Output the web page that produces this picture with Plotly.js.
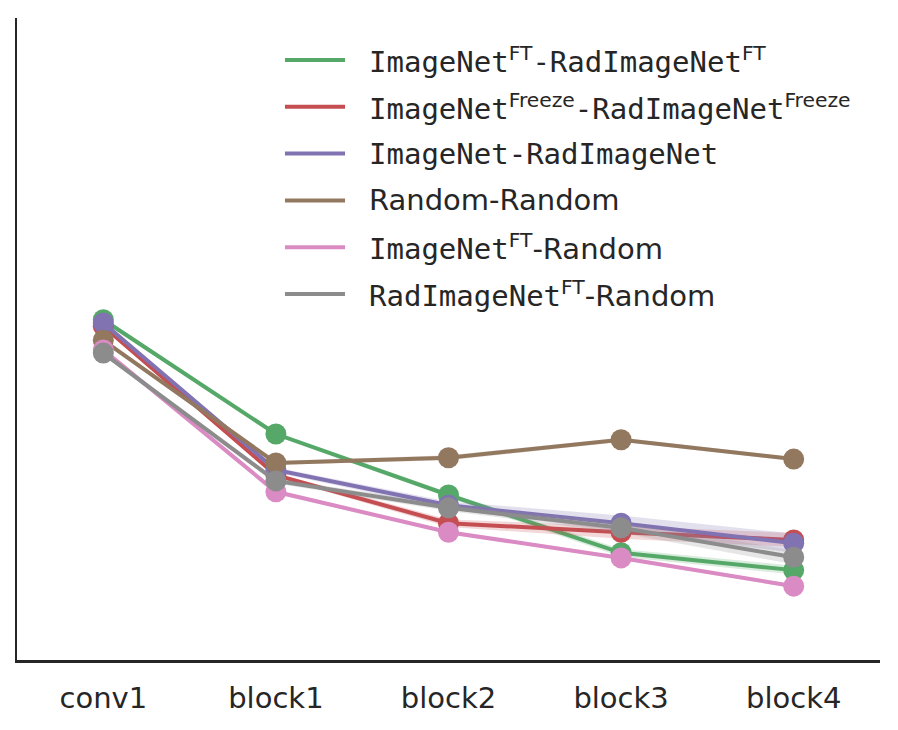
<!DOCTYPE html>
<html>
<head>
<meta charset="utf-8">
<script src="https://cdn.plot.ly/plotly-3.0.1.min.js"></script>
<style>
  html, body { margin: 0; padding: 0; background: #fff; }
  #chart { width: 898px; height: 730px; }
</style>
</head>
<body>
<div id="chart"></div>
<script>
const layers = ['conv1', 'block1', 'block2', 'block3', 'block4'];

const sans = s => '<span style="font-family:DejaVu Sans">' + s + '</span>';

const seriesNames = [
    'ImageNet' + sans('<sup>FT</sup>') + '-RadImageNet' + sans('<sup>FT</sup>'),
    'ImageNet' + sans('<sup>Freeze</sup>') + '-RadImageNet' + sans('<sup>Freeze</sup>'),
    'ImageNet-RadImageNet',
    sans('Random-Random'),
    'ImageNet' + sans('<sup>FT</sup>-Random'),
    'RadImageNet' + sans('<sup>FT</sup>-Random')
];
const seriesColors = ['#55A868', '#C44E52', '#8172B2', '#937860', '#DA8BC3', '#8C8C8C'];

// mean values per layer (no y scale shown in the source, relative units)
const ftFt         = [0.530, 0.352, 0.257, 0.167, 0.140];
const freezeFreeze = [0.520, 0.288, 0.213, 0.199, 0.187];
const plainPlain   = [0.525, 0.296, 0.241, 0.213, 0.182];
const randomRandom = [0.498, 0.307, 0.315, 0.343, 0.313];
const imgFtRandom  = [0.483, 0.262, 0.199, 0.159, 0.115];
const radFtRandom  = [0.478, 0.279, 0.237, 0.206, 0.160];
const seriesValues = [ftFt, freezeFreeze, plainPlain, randomRandom, imgFtRandom, radFtRandom];

// half width of the confidence band per layer
const ftFtBand         = [0.004, 0.003, 0.004, 0.006, 0.007];
const freezeFreezeBand = [0.004, 0.003, 0.006, 0.010, 0.011];
const plainPlainBand   = [0.004, 0.004, 0.006, 0.012, 0.015];
const randomRandomBand = [0.004, 0.003, 0.004, 0.003, 0.003];
const imgFtRandomBand  = [0.003, 0.003, 0.003, 0.003, 0.003];
const radFtRandomBand  = [0.004, 0.004, 0.005, 0.008, 0.011];
const seriesBands = [ftFtBand, freezeFreezeBand, plainPlainBand, randomRandomBand, imgFtRandomBand, radFtRandomBand];

function rgba(hex, a) {
    const n = parseInt(hex.slice(1), 16);
    return 'rgba(' + (n >> 16) + ',' + ((n >> 8) & 255) + ',' + (n & 255) + ',' + a + ')';
}

const traces = [];
seriesValues.forEach((vals, i) => {
    const band = seriesBands[i];
    traces.push({
        x: layers, y: vals.map((v, j) => v + band[j]),
        type: 'scatter', mode: 'lines', line: { width: 0 },
        showlegend: false, hoverinfo: 'skip'
    });
    traces.push({
        x: layers, y: vals.map((v, j) => v - band[j]),
        type: 'scatter', mode: 'lines', line: { width: 0 },
        fill: 'tonexty', fillcolor: rgba(seriesColors[i], 0.22),
        showlegend: false, hoverinfo: 'skip'
    });
    traces.push({
        x: layers, y: vals,
        type: 'scatter', mode: 'lines+markers',
        line: { color: seriesColors[i], width: 4 },
        marker: { color: seriesColors[i], size: 21 },
        showlegend: false, hoverinfo: 'skip'
    });
});

// hand-made legend so the line samples match the long matplotlib handles
const legendTop = 0.9346, legendStep = 0.0729;
const shapes = [], annotations = [];
seriesNames.forEach((name, i) => {
    const y = legendTop - i * legendStep;
    shapes.push({
        type: 'line', xref: 'paper', yref: 'paper',
        x0: 0.3105, x1: 0.3801, y0: y, y1: y,
        line: { color: seriesColors[i], width: 4 }
    });
    annotations.push({
        xref: 'paper', yref: 'paper', x: 0.405, y: y,
        xanchor: 'left', yanchor: 'middle', showarrow: false,
        text: name,
        font: { family: 'DejaVu Sans Mono', size: 29, color: '#262626' }
    });
});

Plotly.newPlot('chart', traces, {
    width: 898, height: 730,
    margin: { l: 17, r: 18, t: 18, b: 70 },
    paper_bgcolor: '#ffffff', plot_bgcolor: '#ffffff',
    showlegend: false,
    xaxis: {
        type: 'category', range: [-0.5, 4.5],
        showgrid: false, zeroline: false,
        showline: true, linecolor: '#262626', linewidth: 2.5,
        ticks: '', ticklabelstandoff: 11,
        tickfont: { family: 'DejaVu Sans', size: 29, color: '#262626' }
    },
    yaxis: {
        range: [0, 1],
        showgrid: false, zeroline: false, showticklabels: false,
        showline: true, linecolor: '#262626', linewidth: 2.5,
        ticks: ''
    },
    shapes: shapes,
    annotations: annotations,
    hovermode: false
}, { displayModeBar: false, staticPlot: true });
</script>
</body>
</html>
